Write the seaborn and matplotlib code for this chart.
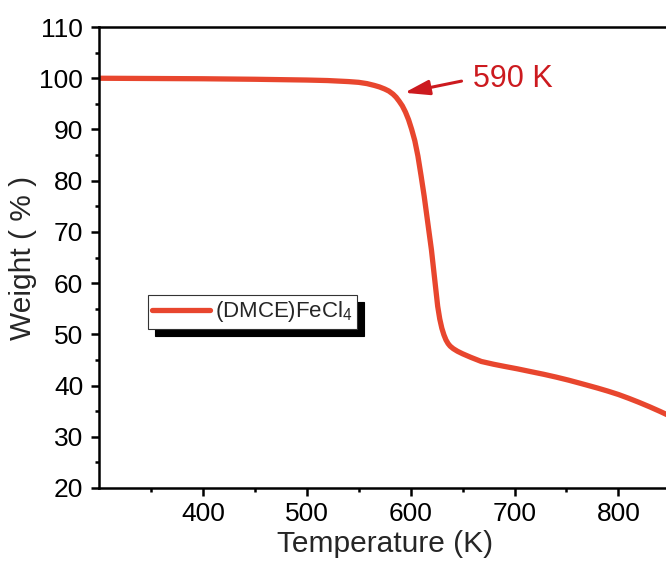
import numpy as np
import pandas as pd
import seaborn as sns
import matplotlib
matplotlib.use("Agg")
import matplotlib.pyplot as plt
from matplotlib.patches import Shadow

# TGA trace of (DMCE)FeCl4
temperature_K = [300, 350, 400, 450, 500, 520, 530, 540, 550, 558, 565, 570, 575,
                 579, 583, 586, 589, 592, 595, 598, 601, 604, 607, 610, 613, 616,
                 620, 623, 626, 628, 630, 632, 634, 636, 638, 641, 645, 650, 658,
                 668, 680, 690, 703, 716, 728, 740, 752, 763, 772, 780, 790, 800,
                 810, 820, 830, 840, 850]
weight_pct = [100.0, 99.95, 99.9, 99.8, 99.65, 99.55, 99.45, 99.35, 99.2, 98.95,
              98.6, 98.3, 97.9, 97.5, 96.9, 96.3, 95.5, 94.6, 93.4, 91.9, 90.0,
              87.8, 84.8, 81.0, 77.0, 72.5, 66.5, 61.0, 55.5, 53.0, 51.2, 49.9,
              48.9, 48.2, 47.7, 47.2, 46.7, 46.2, 45.5, 44.7, 44.15, 43.75, 43.25,
              42.7, 42.2, 41.65, 41.05, 40.45, 39.95, 39.5, 38.9, 38.25, 37.5,
              36.7, 35.85, 34.95, 34.0]
series_label = "(DMCE)FeCl$_4$"
onset_T = 590
onset_W = 97.0
onset_text = "590 K"

x_ticks = [400, 500, 600, 700, 800]
y_ticks = [20, 30, 40, 50, 60, 70, 80, 90, 100, 110]

df = pd.DataFrame({"Temperature (K)": temperature_K, "Weight (%)": weight_pct})

sns.set_theme(style="ticks")
plt.rcParams["font.family"] = ["Liberation Sans", "DejaVu Sans"]
plt.rcParams["mathtext.fontset"] = "custom"
plt.rcParams["mathtext.rm"] = "Liberation Sans"
plt.rcParams["mathtext.it"] = "Liberation Sans"
plt.rcParams["mathtext.default"] = "regular"

fig = plt.figure(figsize=(6.66, 5.69), dpi=100)
ax = fig.add_axes([0.1486, 0.1424, 0.858, 0.8101])

line_color = "#e8462e"
note_color = "#cc1a1f"

sns.lineplot(data=df, x="Temperature (K)", y="Weight (%)", ax=ax,
             color=line_color, linewidth=3.8, label=series_label,
             solid_capstyle="round", solid_joinstyle="round")

ax.set_xlim(300, 850)
ax.set_ylim(20, 110)
ax.set_xticks(x_ticks)
ax.set_yticks(y_ticks)
ax.set_xticks([350, 450, 550, 650, 750, 850], minor=True)
ax.set_yticks(np.arange(25, 110, 10), minor=True)

for side in ["left", "bottom", "top"]:
    ax.spines[side].set_linewidth(1.8)
    ax.spines[side].set_color("black")
ax.spines["right"].set_visible(False)

ax.tick_params(axis="both", which="major", direction="out", length=5.8,
               width=1.8, labelsize=19, color="black", labelcolor="black")
ax.tick_params(axis="x", which="major", pad=4)
ax.tick_params(axis="y", which="major", pad=5.5)
ax.tick_params(axis="both", which="minor", direction="out", length=3,
               width=1.8, color="black")

ax.set_xlabel("Temperature (K)", fontsize=21.5, labelpad=3)
ax.set_ylabel("Weight ( % )", fontsize=21.5, labelpad=2)

ax.annotate(onset_text, xy=(onset_T, onset_W), xytext=(660, 99.9),
            fontsize=22, color=note_color, ha="left", va="center",
            arrowprops=dict(arrowstyle="-|>,head_length=15,head_width=4.5",
                            mutation_scale=1, color=note_color, lw=2.2,
                            relpos=(0, 0.5), shrinkA=6, shrinkB=3))

leg = ax.legend(loc="upper left", bbox_to_anchor=(0.0857, 0.4187),
                borderaxespad=0, fontsize=16, frameon=True, fancybox=False,
                handlelength=2.6, handletextpad=0.2, borderpad=0.2)
frame = leg.get_frame()
frame.set_edgecolor("#333333")
frame.set_linewidth(0.8)
frame.set_facecolor("white")
frame.set_alpha(1)
for h in leg.get_lines():
    h.set_linewidth(3.8)

fig.canvas.draw()
shadow = Shadow(leg.legendPatch, 5, -5, color="black", alpha=1)
shadow.set_zorder(leg.get_zorder() - 0.1)
shadow.set_clip_on(False)
ax.add_artist(shadow)

fig.savefig("out.png", dpi=100)
